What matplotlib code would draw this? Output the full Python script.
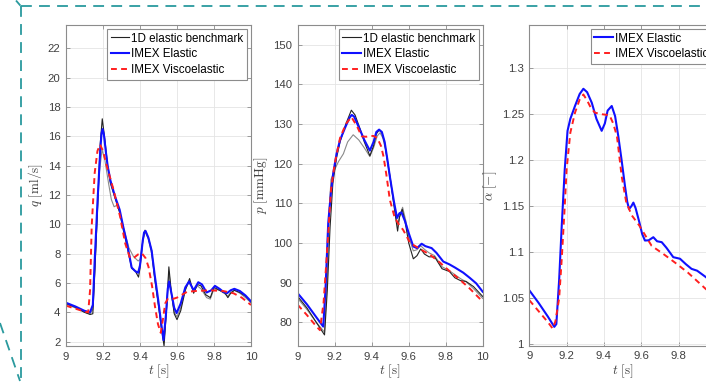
import matplotlib
matplotlib.use("Agg")
import matplotlib.pyplot as plt
from matplotlib.lines import Line2D

plt.rcParams['font.family'] = ['Liberation Sans', 'DejaVu Sans']
plt.rcParams['mathtext.fontset'] = 'cm'

# ---------------- data: flow rate q [ml/s] ----------------
q_blue_t = [9.00, 9.05, 9.10, 9.13, 9.145, 9.155, 9.17, 9.185, 9.192, 9.198, 9.205, 9.215, 9.225, 9.24, 9.265, 9.29,
            9.31, 9.33, 9.355, 9.375, 9.39, 9.40, 9.415, 9.422, 9.43, 9.445, 9.463, 9.48, 9.50, 9.515, 9.527, 9.54,
            9.55, 9.557, 9.57, 9.585, 9.598, 9.62, 9.645, 9.665, 9.69, 9.715, 9.735, 9.76, 9.785, 9.805, 9.83, 9.85,
            9.87, 9.89, 9.91, 9.94, 9.97, 10.0]
q_blue = [4.65, 4.40, 4.10, 4.00, 4.5, 7.5, 11.5, 15.0, 16.2, 16.5, 16.1, 15.0, 14.0, 13.0, 11.9, 11.0,
          9.8, 8.7, 7.05, 6.8, 6.7, 7.2, 8.9, 9.45, 9.55, 9.1, 8.2, 6.5, 4.7, 3.2, 2.1, 3.8,
          5.6, 6.1, 5.3, 4.3, 3.95, 4.6, 5.7, 6.1, 5.5, 6.05, 5.9, 5.35, 5.5, 5.8, 5.6, 5.4,
          5.3, 5.5, 5.6, 5.45, 5.15, 4.75]

q_bk_t = [9.00, 9.05, 9.10, 9.13, 9.145, 9.155, 9.17, 9.185, 9.196, 9.21, 9.225, 9.24, 9.265, 9.29, 9.31, 9.33, 9.355,
          9.375, 9.392, 9.40, 9.415, 9.427, 9.445, 9.463, 9.48, 9.50, 9.515, 9.53, 9.545, 9.556, 9.57, 9.585, 9.60,
          9.62, 9.645, 9.668, 9.69, 9.71, 9.73, 9.755, 9.78, 9.80, 9.83, 9.86, 9.875, 9.89, 9.91, 9.94, 9.97, 10.0]
q_bk = [4.6, 4.35, 4.0, 3.85, 3.9, 6.5, 11.0, 15.5, 17.2, 15.8, 14.0, 12.8, 11.8, 10.8, 9.6, 8.5, 7.0,
        6.8, 6.4, 7.0, 8.9, 9.6, 9.1, 8.2, 6.3, 4.5, 3.0, 1.7, 4.5, 7.1, 5.3, 3.9, 3.5,
        4.1, 5.5, 6.3, 5.3, 5.9, 5.8, 5.2, 5.0, 5.7, 5.5, 5.3, 5.0, 5.3, 5.5, 5.35, 5.1, 4.7]

q_gr_t = [9.00, 9.05, 9.10, 9.13, 9.145, 9.16, 9.18, 9.195, 9.21, 9.23, 9.245, 9.26, 9.275, 9.29, 9.31, 9.34, 9.365,
          9.39, 9.40, 9.415, 9.427, 9.445, 9.463, 9.48, 9.50, 9.515, 9.53, 9.545, 9.556, 9.57, 9.585, 9.60, 9.62,
          9.645, 9.668, 9.69, 9.71, 9.73, 9.76, 9.78, 9.80, 9.83, 9.86, 9.875, 9.89, 9.91, 9.94, 9.97, 10.0]
q_gr = [4.55, 4.3, 4.0, 3.9, 4.2, 8.0, 13.5, 15.1, 14.4, 12.8, 11.7, 11.2, 11.3, 10.9, 9.8, 8.4, 7.8,
        7.5, 7.6, 8.8, 9.5, 9.0, 8.0, 6.2, 4.4, 3.0, 2.0, 4.5, 6.8, 5.2, 4.0, 3.7, 4.3,
        5.6, 6.1, 5.4, 5.8, 5.6, 5.0, 4.9, 5.6, 5.5, 5.25, 5.1, 5.35, 5.5, 5.3, 5.0, 4.65]

q_red_t = [9.00, 9.05, 9.10, 9.12, 9.13, 9.139, 9.155, 9.17, 9.184, 9.20, 9.22, 9.256, 9.292, 9.32, 9.346, 9.37, 9.39,
           9.409, 9.43, 9.446, 9.465, 9.481, 9.497, 9.512, 9.525, 9.536, 9.55, 9.575, 9.60, 9.655, 9.70, 9.78, 9.85,
           9.905, 9.95, 10.0]
q_red = [4.45, 4.25, 4.05, 4.0, 5.5, 9.9, 13.5, 15.0, 15.45, 15.0, 14.0, 12.4, 10.55, 8.7, 7.7, 7.75, 7.95,
         8.04, 7.7, 7.1, 5.8, 4.4, 3.2, 2.6, 3.6, 4.6, 4.9, 4.9, 5.0, 5.4, 5.45, 5.5, 5.45,
         5.3, 5.0, 4.5]

# ---------------- data: pressure p [mmHg] ----------------
p_blue_t = [9.00, 9.05, 9.10, 9.138, 9.15, 9.165, 9.18, 9.192, 9.21, 9.229, 9.26, 9.28, 9.292, 9.305, 9.32, 9.337, 9.36,
            9.39, 9.41, 9.425, 9.44, 9.455, 9.47, 9.485, 9.498, 9.52, 9.537, 9.55, 9.561, 9.58, 9.60, 9.625, 9.645,
            9.67, 9.69, 9.724, 9.75, 9.787, 9.82, 9.85, 9.895, 9.93, 9.965, 10.0]
p_blue = [87.3, 84.5, 81.3, 78.9, 88, 105, 113, 117.6, 122.5, 126, 129.5, 131.6, 132.3, 131.9, 130.3, 128.5, 126,
          123.3, 125.5, 128, 128.6, 128, 125.5, 121, 116.8, 110.5, 106.3, 107.5, 107.7, 105.5, 102.5, 99.1, 98.7,
          99.8, 99.2, 98.7, 97.5, 95.3, 94.6, 93.8, 92.5, 91.2, 89.8, 87.7]

p_bk_t = [9.00, 9.05, 9.10, 9.145, 9.16, 9.175, 9.19, 9.21, 9.229, 9.26, 9.29, 9.31, 9.337, 9.36, 9.39, 9.41, 9.425,
          9.44, 9.455, 9.47, 9.485, 9.50, 9.52, 9.54, 9.55, 9.565, 9.58, 9.60, 9.625, 9.645, 9.665, 9.685, 9.71,
          9.74, 9.78, 9.82, 9.85, 9.88, 9.91, 9.95, 10.0]
p_bk = [86.5, 83.6, 80.0, 76.8, 88, 104, 115, 121.5, 125.5, 130, 133.5, 132.3, 128.8, 125.5, 122, 124.5, 127.5,
        128.5, 127.8, 125.3, 120.8, 116.5, 109.5, 103, 106.5, 108.5, 105.5, 100, 96, 96.8, 98.5, 97.2, 96.5,
        96.5, 93.5, 92.8, 91.2, 90.5, 90.3, 89, 86.5]

p_gr_t = [9.00, 9.05, 9.10, 9.145, 9.16, 9.17, 9.18, 9.20, 9.22, 9.247, 9.27, 9.30, 9.33, 9.36, 9.39, 9.41, 9.43,
          9.445, 9.46, 9.475, 9.49, 9.51, 9.54, 9.553, 9.567, 9.585, 9.60, 9.625, 9.645, 9.665, 9.685, 9.71, 9.74,
          9.78, 9.82, 9.85, 9.88, 9.91, 9.95, 10.0]
p_gr = [86.0, 83.2, 80.0, 77.5, 92, 108, 116, 118.5, 120.5, 122.5, 125.5, 127.3, 126.0, 124.0, 121.8, 124.0, 127.0,
        127.8, 126.5, 123.5, 119, 113, 104.5, 107.0, 109.0, 105.5, 101.5, 98.0, 98.3, 99.3, 98.4, 97.5, 96.8,
        94.0, 93.0, 92.0, 91.0, 90.2, 88.5, 86.0]

p_red_t = [9.00, 9.05, 9.10, 9.12, 9.14, 9.157, 9.18, 9.20, 9.229, 9.26, 9.29, 9.32, 9.346, 9.37, 9.39, 9.41, 9.43,
           9.45, 9.464, 9.48, 9.498, 9.525, 9.545, 9.57, 9.608, 9.66, 9.716, 9.77, 9.823, 9.87, 9.93, 10.0]
p_red = [84.4, 81.8, 79.0, 78.0, 85, 96.6, 113.4, 120, 126.5, 130, 131.8, 129.5, 126.9, 126.8, 127.0, 127.0, 126.5,
         124.5, 121.8, 117, 110.9, 106.3, 104.8, 103.3, 100, 98.5, 97, 95.0, 92.8, 91.0, 88.5, 85.2]

# ---------------- data: alpha [-] ----------------
a_blue_t = [9.00, 9.05, 9.10, 9.134, 9.145, 9.16, 9.174, 9.19, 9.205, 9.22, 9.245, 9.27, 9.29, 9.31, 9.335, 9.36, 9.388,
            9.405, 9.42, 9.442, 9.46, 9.477, 9.495, 9.513, 9.525, 9.535, 9.547, 9.558, 9.57, 9.59, 9.605, 9.62, 9.64,
            9.665, 9.685, 9.71, 9.735, 9.772, 9.808, 9.84, 9.87, 9.90, 9.947, 10.0]
a_blue = [1.0587, 1.045, 1.030, 1.019, 1.022, 1.07, 1.129, 1.19, 1.232, 1.245, 1.259, 1.272, 1.2777, 1.274, 1.2625,
          1.245, 1.232, 1.240, 1.254, 1.259, 1.248, 1.2264, 1.20, 1.172, 1.155, 1.147, 1.150, 1.154, 1.148, 1.1327,
          1.120, 1.1128, 1.113, 1.1164, 1.112, 1.111, 1.105, 1.0947, 1.093, 1.087, 1.082, 1.080, 1.073, 1.064]

a_red_t = [9.00, 9.05, 9.10, 9.125, 9.14, 9.16, 9.174, 9.19, 9.20, 9.22, 9.245, 9.27, 9.29, 9.31, 9.33, 9.352, 9.39,
           9.43, 9.45, 9.47, 9.495, 9.52, 9.55, 9.59, 9.656, 9.72, 9.78, 9.85, 9.947, 10.0]
a_red = [1.048, 1.036, 1.024, 1.0172, 1.025, 1.05, 1.093, 1.15, 1.19, 1.23, 1.2517, 1.266, 1.2715, 1.265, 1.257,
         1.2517, 1.25, 1.249, 1.24, 1.226, 1.1831, 1.154, 1.14, 1.129, 1.107, 1.098, 1.089, 1.078, 1.060, 1.052]

x_ticks = [9, 9.2, 9.4, 9.6, 9.8, 10]
x_ticklabels = ['9', '9.2', '9.4', '9.6', '9.8', '10']
q_ticks = [2, 4, 6, 8, 10, 12, 14, 16, 18, 20, 22]
p_ticks = [80, 90, 100, 110, 120, 130, 140, 150]
a_ticks = [1, 1.05, 1.1, 1.15, 1.2, 1.25, 1.3]
a_ticklabels = ['1', '1.05', '1.1', '1.15', '1.2', '1.25', '1.3']

lab_bench = '1D elastic benchmark'
lab_el = 'IMEX Elastic'
lab_visc = 'IMEX Viscoelastic'

W, H = 706, 382
fig = plt.figure(figsize=(W / 100, H / 100), dpi=100)
fig.patch.set_facecolor('white')


def make_ax(left, right, top, bottom):
    return fig.add_axes([left / W, (H - bottom) / H, (right - left) / W, (bottom - top) / H])


BLUE = '#1010ff'
RED = '#ff1f1f'
TXT = '#404040'
DASH = (0, (3, 2.2))


def style(ax):
    ax.grid(True, color='#e4e4e4', linewidth=0.6)
    ax.set_axisbelow(True)
    for s in ax.spines.values():
        s.set_color('#8c8c8c')
        s.set_linewidth(0.8)
    ax.tick_params(direction='in', length=3, width=0.6, color='#8c8c8c', labelcolor=TXT,
                   labelsize=8.2, top=True, right=True, pad=4)
    ax.set_xlim(9, 10)
    ax.set_xticks(x_ticks)
    ax.set_xticklabels(x_ticklabels)
    ax.set_xlabel(r'$t\ [\mathrm{s}]$', fontsize=9.5, color=TXT, labelpad=1)


def leg(ax, handles, labels):
    lg = ax.legend(handles, labels, loc='upper right', fontsize=8.4, frameon=True, fancybox=False,
                   edgecolor='#8c8c8c', framealpha=1, borderpad=0.3, labelspacing=0.33,
                   handlelength=1.6, handletextpad=0.15, borderaxespad=0.35)
    lg.get_frame().set_linewidth(0.8)
    return lg


h_bench = Line2D([], [], color='#222222', lw=0.8)
h_el = Line2D([], [], color=BLUE, lw=1.5)
h_visc = Line2D([], [], color=RED, lw=1.4, ls=DASH)

# Panel 1
ax1 = make_ax(66, 251, 25, 346)
style(ax1)
ax1.plot(q_gr_t, q_gr, color='#8a8a8a', lw=0.8)
ax1.plot(q_bk_t, q_bk, color='#222222', lw=0.8)
ax1.plot(q_blue_t, q_blue, color=BLUE, lw=1.5)
ax1.plot(q_red_t, q_red, color=RED, lw=1.4, ls=DASH)
ax1.set_ylim(1.7, 23.6)
ax1.set_yticks(q_ticks)
ax1.set_ylabel(r'$q\ [\mathrm{ml/s}]$', fontsize=9.5, color=TXT, labelpad=2)
leg(ax1, [h_bench, h_el, h_visc], [lab_bench, lab_el, lab_visc])

# Panel 2
ax2 = make_ax(297.7, 482.7, 25, 346)
style(ax2)
ax2.plot(p_gr_t, p_gr, color='#8a8a8a', lw=0.8)
ax2.plot(p_bk_t, p_bk, color='#222222', lw=0.8)
ax2.plot(p_blue_t, p_blue, color=BLUE, lw=1.5)
ax2.plot(p_red_t, p_red, color=RED, lw=1.4, ls=DASH)
ax2.set_ylim(74, 155)
ax2.set_yticks(p_ticks)
ax2.set_ylabel(r'$p\ [\mathrm{mmHg}]$', fontsize=9.5, color=TXT, labelpad=2)
leg(ax2, [h_bench, h_el, h_visc], [lab_bench, lab_el, lab_visc])

# Panel 3 (extends past the right edge of the picture, as in the reference crop)
ax3 = make_ax(529.3, 715.8, 25, 345.7)
style(ax3)
ax3.plot(a_blue_t, a_blue, color=BLUE, lw=1.5)
ax3.plot(a_red_t, a_red, color=RED, lw=1.4, ls=DASH)
ax3.set_ylim(0.9985, 1.347)
ax3.set_yticks(a_ticks)
ax3.set_yticklabels(a_ticklabels)
ax3.set_ylabel(r'$\alpha\ [\mathrm{-}]$', fontsize=9.5, color=TXT, labelpad=2)
leg(ax3, [h_el, h_visc], [lab_el, lab_visc])

# teal dashed frame (decoration)
TEAL = '#2a9a9e'


def fline(x0, y0, x1, y1):
    fig.add_artist(Line2D([x0 / W, x1 / W], [(H - y0) / H, (H - y1) / H], transform=fig.transFigure,
                          color=TEAL, lw=1.3, ls=(0, (6, 4))))


fline(20.5, 5.7, 706, 5.7)
fline(20.5, 5.7, 20.5, 382)
fline(16, 0.5, 20.5, 5.7)
fline(0, 323, 20, 381)

fig.savefig('out.png', dpi=100, facecolor='white')
